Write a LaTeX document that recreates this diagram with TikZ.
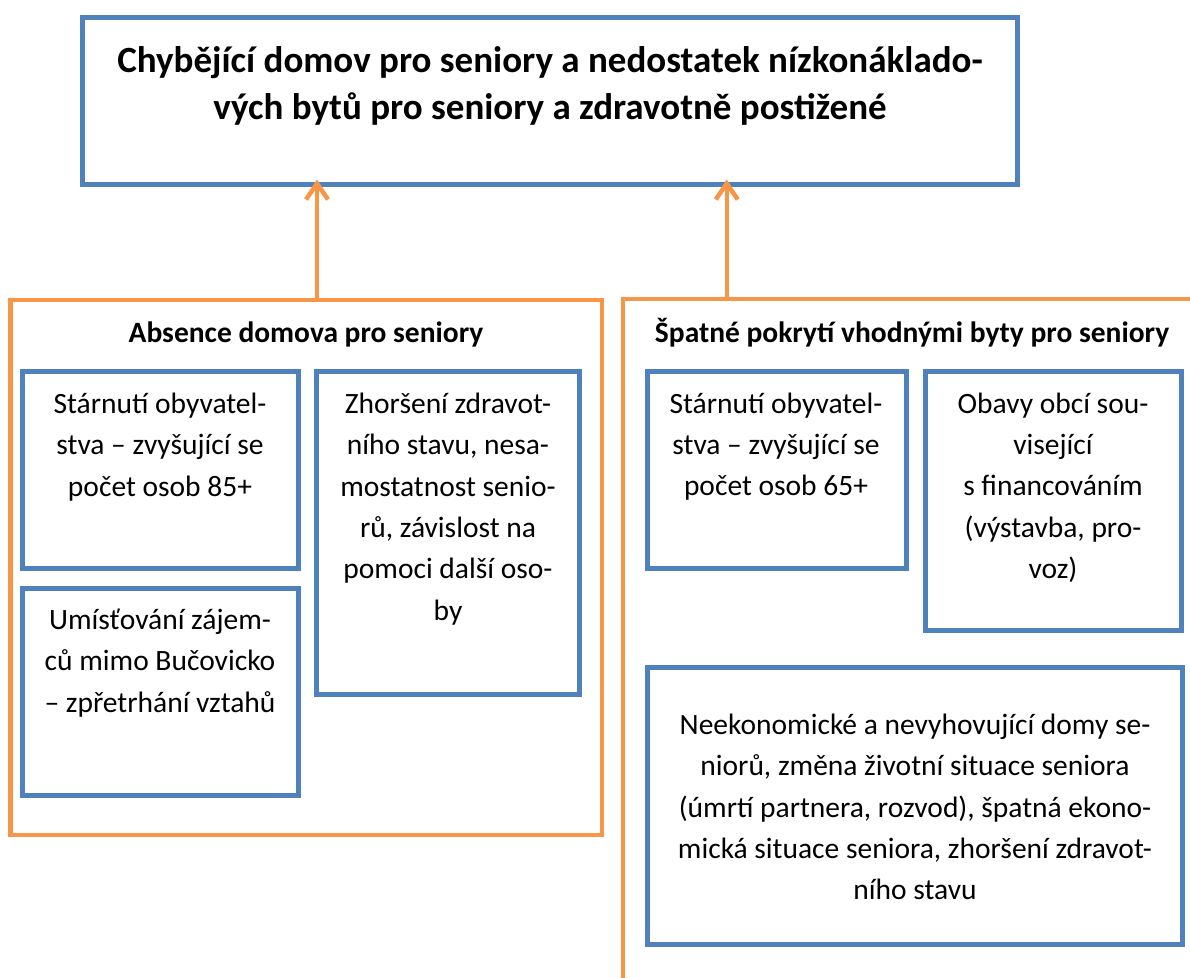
\documentclass[tikz,border=0pt]{standalone}
\usepackage{fontspec}
\setmainfont{Carlito}
\usetikzlibrary{arrows.meta}
\definecolor{boxblue}{HTML}{4F81BD}
\definecolor{linkorange}{HTML}{F79646}
\begin{document}
\begin{tikzpicture}[x=1pt,y=-1pt,
    bluebox/.style={draw=boxblue,line width=5pt,inner sep=0pt},
    orangebox/.style={draw=linkorange,line width=4.5pt,inner sep=0pt},
    cause/.style={align=center,inner sep=0pt,font=\fontsize{29.5}{41.3}\selectfont},
    heading/.style={inner sep=0pt,font=\bfseries\fontsize{29.5}{41.3}\selectfont},
    uparrow/.style={draw=linkorange,line width=4.5pt,-{Straight Barb[length=16pt,width=22pt]}}]
    \useasboundingbox (0,0) rectangle (1190,977);
    \clip (0,0) rectangle (1190,977);
    % main problem
    \node[bluebox,minimum width=935pt,minimum height=167pt] (top) at (549.5,100.5) {};
    \node[align=center,inner sep=0pt,font=\bfseries\fontsize{37}{47}\selectfont] (toptxt) at (550,86)
      {Chybějící domov pro seniory a nedostatek nízkonáklado-\\vých bytů pro seniory a zdravotně postižené};
    % two groups of causes
    \node[orangebox,minimum width=591.5pt,minimum height=535pt] (absL) at (306.25,567.5) {};
    \node[orangebox,minimum width=617pt,minimum height=711pt] (absR) at (931.5,654.5) {};
    \node[heading,anchor=base] (headL) at (306,342) {Absence domova pro seniory};
    \node[heading,anchor=base] (headR) at (912,342) {Špatné pokrytí vhodnými byty pro seniory};
    % left group
    \node[bluebox,minimum width=275.5pt,minimum height=197pt] (b1) at (160.25,469.5) {};
    \node[bluebox,minimum width=275.5pt,minimum height=207pt] (b2) at (160.25,691.5) {};
    \node[bluebox,minimum width=263pt,minimum height=323pt] (b3) at (447.5,532.5) {};
    \node[cause] (t1) at (160,447) {Stárnutí obyvatel-\\stva – zvyšující se\\počet osob 85+};
    \node[cause] (t2) at (160,663) {Umísťování zájem-\\ců mimo Bučovicko\\– zpřetrhání vztahů};
    \node[cause] (t3) at (448,509) {Zhoršení zdravot-\\ního stavu, nesa-\\mostatnost senio-\\rů, závislost na\\pomoci další oso-\\by};
    % right group
    \node[bluebox,minimum width=259pt,minimum height=197.5pt] (b4) at (776.5,469.75) {};
    \node[bluebox,minimum width=256pt,minimum height=259pt] (b5) at (1053,500.5) {};
    \node[bluebox,minimum width=535pt,minimum height=277pt] (b6) at (914.5,805.5) {};
    \node[cause] (t4) at (776,446.5) {Stárnutí obyvatel-\\stva – zvyšující se\\počet osob 65+};
    \node[cause] (t5) at (1053,487.5) {Obavy obcí sou-\\visející\\s financováním\\(výstavba, pro-\\voz)};
    \node[cause] (t6) at (915,807) {Neekonomické a nevyhovující domy se-\\niorů, změna životní situace seniora\\(úmrtí partnera, rozvod), špatná ekono-\\mická situace seniora, zhoršení zdravot-\\ního stavu};
    % links up to the main problem
    \draw[uparrow] ([xshift=10.75pt]absL.north) -- ([xshift=10.75pt,yshift=7pt]absL.north |- top.south);
    \draw[uparrow] ([xshift=106pt]absR.north west) -- ([xshift=106pt,yshift=7pt]absR.north west |- top.south);
\end{tikzpicture}
\end{document}
